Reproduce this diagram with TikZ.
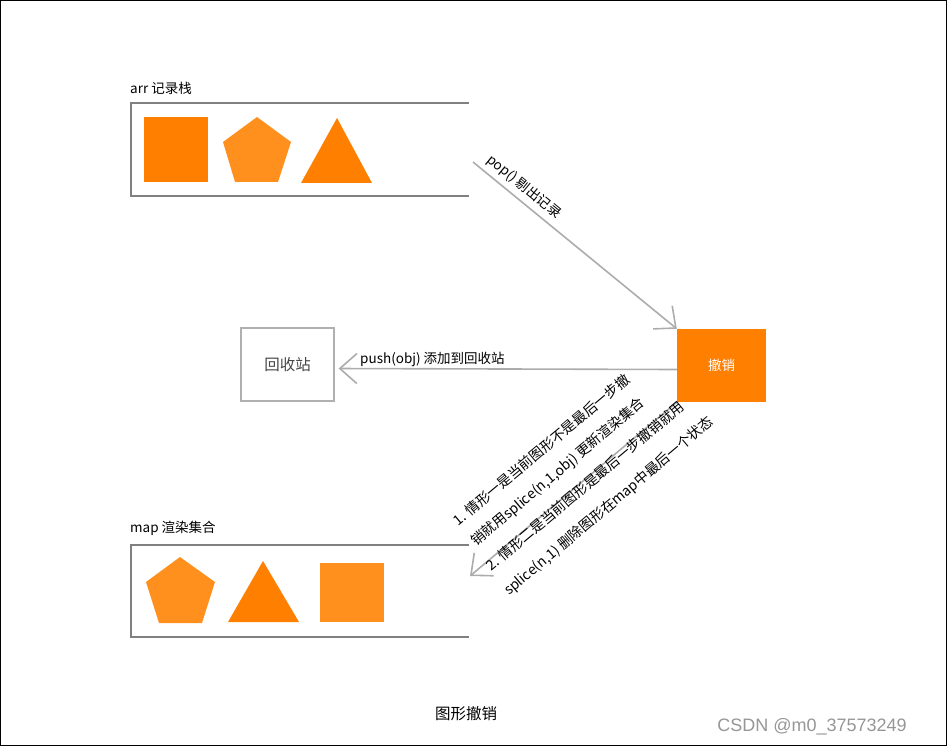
\documentclass[tikz,border=0pt]{standalone}
\usepackage{fontspec}
\setmainfont{Noto Sans CJK SC}
\newfontfamily\wmfont{Liberation Sans}
\usetikzlibrary{arrows.meta}
\definecolor{orA}{RGB}{255,128,0}
\definecolor{orB}{RGB}{255,144,30}
\definecolor{boxgray}{RGB}{128,128,128}
\definecolor{arrgray}{RGB}{172,172,172}
\definecolor{recgray}{RGB}{176,176,176}
\definecolor{txtgray}{RGB}{70,70,70}
\definecolor{wmgray}{RGB}{150,150,150}
\begin{document}
\begin{tikzpicture}[x=1pt,y=-1pt,
  lbl/.style={font=\fontsize{13.5}{16}\selectfont, inner sep=0pt},
  rlbl/.style={font=\fontsize{14}{16}\selectfont, inner sep=0pt, anchor=base west, rotate=40},
  stackbox/.style={draw=boxgray, line width=2pt},
  conn/.style={draw=arrgray, line width=1.6pt, -{Straight Barb[length=17pt,width=30pt]}},
]
\useasboundingbox (0,0) rectangle (947,746);
\draw[black, line width=1pt] (0.5,0.5) rectangle (946.5,745.5);

% arr stack
\node[lbl, anchor=west] (arrlbl) at (130,88) {arr 记录栈};
\draw[stackbox] (469,103) -| (131,196) -- (469,196);
\fill[orA] (144,117) rectangle (208,182);
\fill[orB] (257,117) -- (291,142) -- (278,182) -- (235,182) -- (223,142) -- cycle;
\fill[orA] (337,118) -- (372,183) -- (301,183) -- cycle;
\coordinate (arrout) at (473,162);

% map set
\node[lbl, anchor=west] (maplbl) at (130,528) {map 渲染集合};
\draw[stackbox] (469,545) -| (131,637) -- (469,637);
\fill[orB] (180,557) -- (215,582) -- (202,623) -- (159,623) -- (146,582) -- cycle;
\fill[orA] (263,561) -- (299,622) -- (228,622) -- cycle;
\fill[orB] (320,563) rectangle (384,622);
\coordinate (mapin) at (470,576);

% undo
\node[fill=orA, text=white, minimum width=89pt, minimum height=73pt, inner sep=0pt,
      font=\fontsize{13.5}{16}\selectfont] (undo) at (721.5,365.5) {撤销};

% recycle
\node[draw=recgray, line width=1.3pt, text=txtgray, minimum width=93pt, minimum height=73pt,
      inner sep=0pt, font=\fontsize{15.5}{18}\selectfont] (recycle) at (287.5,364.5) {回收站};

% connectors
\draw[conn] (arrout) -- (undo.north west)
  node[lbl, pos=0.21, sloped, above=5pt] (poplbl) {pop() 剔出记录};
\draw[conn, shorten >=4pt] ([yshift=-4pt]undo.west) -- ([yshift=-4pt]recycle.east);
\node[lbl, anchor=base west] (pushlbl) at (360,363) {push(obj) 添加到回收站};
\draw[conn] (undo.south west) -- (mapin);

\node[rlbl] (c1a) at (458,527) {1. 情形一是当前图形不是最后一步撤};
\node[rlbl] (c1b) at (476,547) {销就用splice(n,1,obj) 更新渲染集合};
\node[rlbl] (c2a) at (491,572) {2. 情形二是当前图形是最后一步撤销就用};
\node[rlbl] (c2b) at (509,596) {splice(n,1) 删除图形在map中最后一个状态};

% caption
\node[font=\fontsize{15.5}{18}\selectfont, inner sep=0pt] (caption) at (466,714) {图形撤销};
\node[font=\wmfont\fontsize{18}{20}\selectfont, text=wmgray, inner sep=0pt, anchor=base east] (wm) at (907,731) {CSDN @m0\_37573249};
\end{tikzpicture}
\end{document}
